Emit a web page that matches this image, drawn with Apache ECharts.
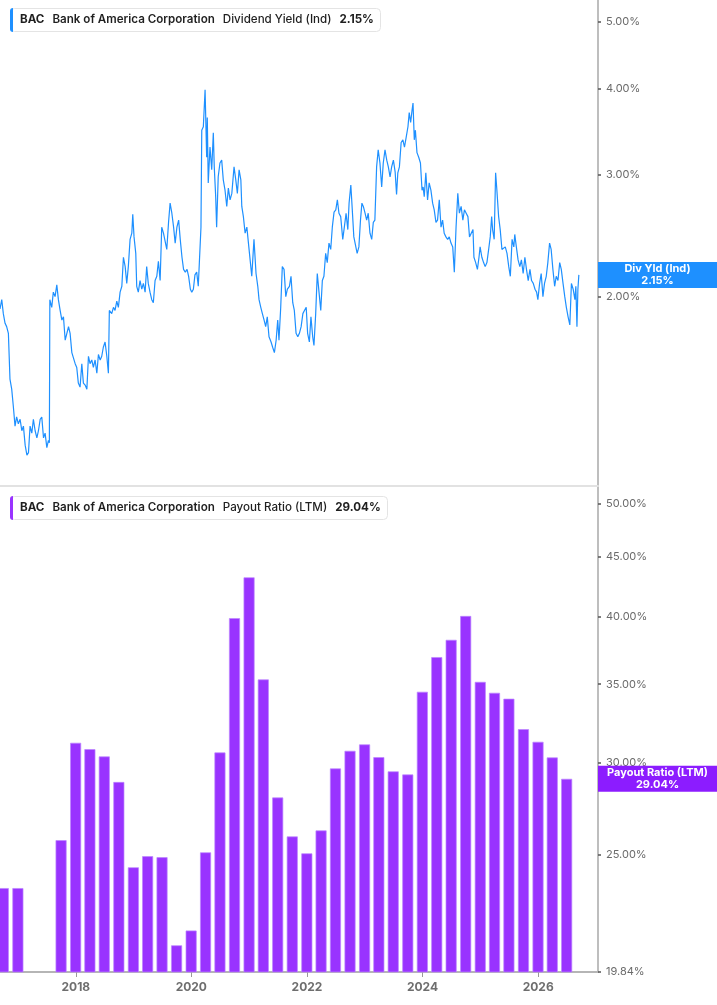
<!DOCTYPE html>
<html>
<head>
<meta charset="utf-8">
<title>BAC Dividend Yield / Payout Ratio</title>
<script src="https://cdn.jsdelivr.net/npm/echarts@6.0.0/dist/echarts.min.js"></script>
<style>
  html, body { margin: 0; padding: 0; background: #fff; }
  #chart { width: 717px; height: 1005px; }
</style>
</head>
<body>
<div id="chart"></div>
<script>
const kTicker = 'BAC';
const kCompany = 'Bank of America Corporation';

// Dividend Yield (Ind), %
const yieldDates = [
  '2016-09-09', '2016-09-20', '2016-09-30', '2016-10-11', '2016-10-21', '2016-11-01', '2016-11-11', '2016-11-22', '2016-12-02', '2016-12-13', '2016-12-23',
  '2017-01-03', '2017-01-14', '2017-01-25', '2017-02-04', '2017-02-15', '2017-02-26', '2017-03-08', '2017-03-18', '2017-03-29', '2017-04-08', '2017-04-19', '2017-04-30',
  '2017-05-10', '2017-05-21', '2017-05-31', '2017-06-11', '2017-06-21', '2017-07-02', '2017-07-12', '2017-07-18', '2017-07-21', '2017-08-02', '2017-08-12', '2017-08-23',
  '2017-09-03', '2017-09-13', '2017-09-24', '2017-10-05', '2017-10-15', '2017-10-26', '2017-11-05', '2017-11-16', '2017-11-26', '2017-12-07', '2017-12-17', '2017-12-28',
  '2018-01-07', '2018-01-17', '2018-01-28', '2018-02-08', '2018-02-18', '2018-03-01', '2018-03-12', '2018-03-22', '2018-04-01', '2018-04-12', '2018-04-22', '2018-05-03',
  '2018-05-14', '2018-05-24', '2018-06-04', '2018-06-14', '2018-06-24', '2018-07-05', '2018-07-16', '2018-07-26', '2018-08-01', '2018-08-16', '2018-08-27', '2018-09-06',
  '2018-09-17', '2018-09-27', '2018-10-08', '2018-10-19', '2018-10-29', '2018-11-09', '2018-11-19', '2018-11-29', '2018-12-10', '2018-12-21', '2018-12-27',
  '2019-01-04', '2019-01-15', '2019-01-21', '2019-01-31', '2019-02-11', '2019-02-22', '2019-03-04', '2019-03-15', '2019-03-25', '2019-04-04', '2019-04-15', '2019-04-26',
  '2019-05-06', '2019-05-17', '2019-05-28', '2019-06-07', '2019-06-18', '2019-06-28', '2019-07-09', '2019-07-20', '2019-07-30', '2019-08-10', '2019-08-20', '2019-08-31',
  '2019-09-11', '2019-09-21', '2019-10-02', '2019-10-13', '2019-10-23', '2019-11-03', '2019-11-13', '2019-11-24', '2019-12-05', '2019-12-15', '2019-12-26',
  '2020-01-04', '2020-01-14', '2020-01-24', '2020-02-04', '2020-02-14', '2020-02-25', '2020-03-02', '2020-03-07', '2020-03-17', '2020-03-28', '2020-04-07', '2020-04-11',
  '2020-04-17', '2020-04-28', '2020-05-09', '2020-05-19', '2020-05-25', '2020-06-03', '2020-06-09', '2020-06-19', '2020-06-30', '2020-07-11', '2020-07-21', '2020-08-01',
  '2020-08-12', '2020-08-22', '2020-09-02', '2020-09-13', '2020-09-27', '2020-10-08', '2020-10-18', '2020-10-29', '2020-11-09', '2020-11-15', '2020-11-25', '2020-12-06',
  '2020-12-17', '2020-12-27',
  '2021-01-06', '2021-01-17', '2021-01-31', '2021-02-13', '2021-02-24', '2021-03-04', '2021-03-15', '2021-03-25', '2021-04-05', '2021-04-15', '2021-04-25', '2021-05-06',
  '2021-05-19', '2021-05-29', '2021-06-09', '2021-06-20', '2021-06-30', '2021-07-08', '2021-07-19', '2021-07-29', '2021-08-09', '2021-08-20', '2021-08-30', '2021-09-12',
  '2021-09-22', '2021-10-03', '2021-10-13', '2021-10-24', '2021-11-04', '2021-11-14', '2021-11-25', '2021-12-06', '2021-12-16', '2021-12-27',
  '2022-01-05', '2022-01-16', '2022-01-26', '2022-02-06', '2022-02-14', '2022-02-25', '2022-03-07', '2022-03-18', '2022-03-29', '2022-04-08', '2022-04-18', '2022-04-29',
  '2022-05-09', '2022-05-20', '2022-05-31', '2022-06-10', '2022-06-21', '2022-07-02', '2022-07-12', '2022-07-22', '2022-08-02', '2022-08-15', '2022-08-25', '2022-09-05',
  '2022-09-16', '2022-09-24', '2022-10-05', '2022-10-13', '2022-10-24', '2022-11-03', '2022-11-14', '2022-11-25', '2022-12-05', '2022-12-14', '2022-12-23',
  '2023-01-03', '2023-01-13', '2023-01-23', '2023-02-03', '2023-02-14', '2023-02-24', '2023-03-06', '2023-03-17', '2023-03-27', '2023-04-07', '2023-04-18', '2023-04-28',
  '2023-05-09', '2023-05-20', '2023-05-30', '2023-06-10', '2023-06-20', '2023-07-01', '2023-07-12', '2023-07-21', '2023-07-29', '2023-08-08', '2023-08-19', '2023-08-30',
  '2023-09-09', '2023-09-20', '2023-10-01', '2023-10-09', '2023-10-18', '2023-10-27', '2023-11-02', '2023-11-10', '2023-11-17', '2023-11-27', '2023-12-08', '2023-12-19',
  '2023-12-29',
  '2024-01-05', '2024-01-12', '2024-01-22', '2024-02-02', '2024-02-12', '2024-02-23', '2024-03-05', '2024-03-15', '2024-03-26', '2024-04-05', '2024-04-16', '2024-04-27',
  '2024-05-07', '2024-05-17', '2024-05-28', '2024-06-08', '2024-06-18', '2024-06-29', '2024-07-10', '2024-07-20', '2024-07-31', '2024-08-11', '2024-08-21', '2024-09-01',
  '2024-09-12', '2024-09-22', '2024-10-03', '2024-10-14', '2024-10-24', '2024-11-04', '2024-11-15', '2024-11-21', '2024-12-02', '2024-12-13', '2024-12-23', '2024-12-30',
  '2025-01-10', '2025-01-21', '2025-01-31', '2025-02-11', '2025-02-22', '2025-03-04', '2025-03-13', '2025-03-19', '2025-03-29', '2025-04-07', '2025-04-15', '2025-04-26',
  '2025-05-06', '2025-05-17', '2025-05-28', '2025-06-07', '2025-06-18', '2025-06-29', '2025-07-09', '2025-07-20', '2025-07-31', '2025-08-06', '2025-08-16', '2025-08-27',
  '2025-09-07', '2025-09-17', '2025-09-28', '2025-10-09', '2025-10-19', '2025-10-30', '2025-11-10', '2025-11-20', '2025-12-01', '2025-12-12', '2025-12-22', '2025-12-30',
  '2026-01-10', '2026-01-20', '2026-01-31', '2026-02-10', '2026-02-21', '2026-03-03', '2026-03-14', '2026-03-24', '2026-04-04', '2026-04-15', '2026-04-25', '2026-05-06',
  '2026-05-17', '2026-05-27', '2026-06-07', '2026-06-18', '2026-06-28', '2026-07-09', '2026-07-20', '2026-07-30', '2026-08-10', '2026-08-21', '2026-08-27', '2026-09-03',
  '2026-09-09', '2026-09-15',
];
const yieldValues = [
  1.92, 1.98, 1.89, 1.83, 1.81, 1.77, 1.52, 1.47, 1.39, 1.30, 1.34,
  1.31, 1.33, 1.28, 1.30, 1.22, 1.18, 1.19, 1.30, 1.27, 1.33, 1.28, 1.25,
  1.28, 1.33, 1.34, 1.25, 1.27, 1.21, 1.24, 1.23, 1.98, 1.93, 2.03, 2.00,
  2.08, 1.98, 1.91, 1.85, 1.87, 1.73, 1.72, 1.81, 1.77, 1.66, 1.66, 1.60,
  1.58, 1.50, 1.48, 1.60, 1.50, 1.49, 1.47, 1.64, 1.60, 1.62, 1.58, 1.62,
  1.55, 1.65, 1.62, 1.64, 1.69, 1.72, 1.64, 1.55, 1.91, 1.89, 1.93, 1.91,
  1.97, 1.93, 2.03, 2.07, 2.28, 2.21, 2.09, 2.21, 2.42, 2.47, 2.63,
  2.44, 2.31, 2.07, 2.03, 2.11, 2.05, 2.09, 2.03, 2.21, 2.09, 2.03, 1.98,
  1.96, 2.11, 2.14, 2.25, 2.11, 2.52, 2.47, 2.47, 2.34, 2.56, 2.73, 2.64,
  2.52, 2.39, 2.52, 2.58, 2.42, 2.28, 2.19, 2.17, 2.19, 2.14, 2.05,
  2.03, 2.05, 2.15, 2.17, 2.07, 2.07, 2.52, 3.48, 3.52, 3.98, 3.18, 3.63,
  2.92, 3.29, 3.05, 3.45, 3.08, 2.79, 2.52, 2.98, 3.12, 3.15, 2.95, 2.85,
  2.70, 2.87, 2.76, 2.82, 3.08, 2.95, 2.82, 3.05, 2.95, 2.70, 2.61, 2.47,
  2.52, 2.39,
  2.38, 2.14, 2.42, 2.16, 2.07, 1.98, 1.93, 1.89, 1.85, 1.81, 1.87, 1.75,
  1.72, 1.69, 1.66, 1.73, 1.85, 1.73, 1.93, 2.21, 2.19, 2.00, 2.05, 2.07,
  2.14, 1.96, 1.91, 1.77, 1.75, 1.77, 1.81, 1.89, 1.91, 1.93,
  1.77, 1.72, 1.87, 1.75, 1.70, 1.89, 2.16, 2.03, 1.91, 2.11, 2.14, 2.31,
  2.24, 2.39, 2.34, 2.52, 2.65, 2.67, 2.76, 2.64, 2.61, 2.42, 2.52, 2.64,
  2.50, 2.73, 2.90, 2.70, 2.44, 2.44, 2.31, 2.36, 2.58, 2.73, 2.70,
  2.64, 2.58, 2.64, 2.47, 2.42, 2.56, 2.58, 3.08, 3.26, 3.12, 2.88, 3.12,
  3.26, 3.15, 3.08, 2.98, 3.08, 3.15, 3.03, 2.81, 3.02, 3.08, 3.34, 3.37,
  3.29, 3.40, 3.52, 3.69, 3.57, 3.72, 3.81, 3.37, 3.48, 3.23, 3.18, 3.12,
  2.85,
  2.88, 2.79, 3.02, 2.76, 2.92, 2.85, 2.73, 2.67, 2.56, 2.58, 2.76, 2.52,
  2.58, 2.47, 2.44, 2.42, 2.44, 2.39, 2.36, 2.17, 2.52, 2.82, 2.64, 2.70,
  2.58, 2.67, 2.64, 2.61, 2.44, 2.47, 2.50, 2.28, 2.24, 2.19, 2.28, 2.36,
  2.28, 2.24, 2.21, 2.24, 2.34, 2.44, 2.61, 2.50, 2.42, 3.02, 2.85, 2.61,
  2.50, 2.34, 2.34, 2.36, 2.31, 2.21, 2.14, 2.42, 2.36, 2.46, 2.36, 2.26,
  2.21, 2.26, 2.16, 2.28, 2.19, 2.11, 2.19, 2.11, 2.09, 2.05, 2.03, 1.98,
  2.09, 2.16, 2.00, 2.09, 2.14, 2.24, 2.39, 2.34, 2.19, 2.07, 2.14, 2.11,
  2.24, 2.19, 2.09, 2.00, 1.93, 1.87, 1.82, 2.09, 2.05, 1.98, 2.07, 1.81,
  2.05, 2.15,
];

// Payout Ratio (LTM), %, quarterly
const payoutDates = [
  '2016-09-30', '2016-12-31', '2017-03-31', '2017-06-30', '2017-09-30', '2017-12-31',
  '2018-03-31', '2018-06-30', '2018-09-30', '2018-12-31', '2019-03-31', '2019-06-30', '2019-09-30', '2019-12-31',
  '2020-03-31', '2020-06-30', '2020-09-30', '2020-12-31', '2021-03-31', '2021-06-30', '2021-09-30', '2021-12-31',
  '2022-03-31', '2022-06-30', '2022-09-30', '2022-12-31', '2023-03-31', '2023-06-30', '2023-09-30', '2023-12-31',
  '2024-03-31', '2024-06-30', '2024-09-30', '2024-12-31', '2025-03-31', '2025-06-30', '2025-09-30', '2025-12-31',
  '2026-03-31', '2026-06-30',
];
const payoutValues = [
  23.41, 23.41, null, null, 25.73, 31.18,
  30.79, 30.35, 28.86, 24.39, 24.93, 24.88, 20.91, 21.53,
  25.12, 30.59, 39.87, 43.21, 35.33, 27.99, 25.92, 25.07,
  26.23, 29.64, 30.69, 31.08, 30.31, 29.47, 29.29, 34.48,
  36.92, 38.20, 40.04, 35.16, 34.41, 34.01, 32.03, 31.24,
  30.29, 29.04,
];

// axis ticks
const yearTicks = ['2018-01-01', '2020-01-01', '2022-01-01', '2024-01-01', '2026-01-01'];
const yieldTicks = [2, 3, 4, 5];
const payoutTicks = [19.84, 25, 30, 35, 40, 45, 50];

const kFont = 'Inter, "Noto Sans", sans-serif';
const kBlue = '#1e90ff';
const kPurple = '#9933ff';
const kPurpleTag = '#8c1cff';

window.onload = function () {
  const chart = echarts.init(document.getElementById('chart'));
  chart.setOption(buildOption());
};

// 'YYYY-MM-DD' -> UTC 毫秒
function toTime(d) {
  return Date.parse(d + 'T00:00:00Z');
}

/**
 * 左上角的标题框
 */
function headerTitle(top, color, metric, value) {
  const font = { fontFamily: kFont, fontSize: 11.6, color: '#1f1f1f' };
  return {
    left: 10,
    top,
    text: `{bar|}{t|${kTicker}}{n|${kCompany}}{m|${metric}}{v|${value}}`,
    backgroundColor: '#fff',
    borderColor: '#e4e4e4',
    borderWidth: 1,
    borderRadius: 4,
    padding: [0, 7, 0, 0],
    textStyle: {
      fontFamily: kFont,
      fontSize: 11.6,
      color: '#1f1f1f',
      rich: {
        bar: { backgroundColor: color, width: 3, height: 24, borderRadius: [3, 0, 0, 3] },
        t: { ...font, fontWeight: 700, padding: [0, 0, 0, 7] },
        n: { ...font, fontWeight: 600, padding: [0, 0, 0, 8] },
        m: { ...font, fontWeight: 500, padding: [0, 0, 0, 8] },
        v: { ...font, fontWeight: 700, padding: [0, 0, 0, 8] },
      },
    },
  };
}

/**
 * 右侧的数值标签
 */
function tagMarkLine(value, color, name, text) {
  return {
    silent: true,
    symbol: ['none', 'none'],
    lineStyle: { color: 'rgba(0,0,0,0)', width: 0, type: 'solid' },
    data: [{ yAxis: value }],
    label: {
      show: true,
      position: 'end',
      distance: 0,
      backgroundColor: color,
      padding: [1, 0, 1, 0],
      formatter: `{a|${name}}\n{a|${text}}`,
      rich: {
        a: {
          width: 119,
          align: 'center',
          color: '#fff',
          fontFamily: kFont,
          fontSize: 11,
          fontWeight: 700,
          lineHeight: 12,
        },
      },
    },
  };
}

function valueAxis(gridIndex, min, max, ticks) {
  return {
    type: 'log',
    logBase: 10,
    gridIndex,
    position: 'right',
    min,
    max,
    axisLine: { show: true, lineStyle: { color: '#a9a9a9', width: 1.5 } },
    axisTick: { show: true, customValues: ticks, length: 3, lineStyle: { color: '#555', width: 1.5 } },
    axisLabel: {
      customValues: ticks,
      formatter: v => v.toFixed(2) + '%',
      color: '#6a6a6a',
      fontFamily: kFont,
      fontSize: 11,
      margin: 8,
    },
    splitLine: { show: false },
  };
}

function dateAxis(gridIndex, min, max, showLabels) {
  const ticks = yearTicks.map(toTime);
  return {
    type: 'value',
    gridIndex,
    min,
    max,
    axisLine: {
      show: true,
      lineStyle: showLabels ? { color: '#b5b5b5', width: 2 } : { color: '#e2e2e2', width: 2 },
    },
    axisTick: { show: showLabels, customValues: ticks, length: 5, lineStyle: { color: '#999' } },
    axisLabel: {
      show: showLabels,
      customValues: ticks,
      formatter: v => String(new Date(v).getUTCFullYear()),
      color: '#6e6e6e',
      fontFamily: kFont,
      fontSize: 12,
      fontWeight: 700,
      margin: 9,
    },
    splitLine: { show: false },
  };
}

function buildOption() {
  const lastYield = yieldValues[yieldValues.length - 1];
  const lastPayout = payoutValues[payoutValues.length - 1];
  const xMin = toTime('2016-09-09');
  const xMax = toTime('2027-01-14');

  return {
    animation: false,
    backgroundColor: '#fff',
    title: [
      headerTitle(8, kBlue, 'Dividend Yield (Ind)', lastYield.toFixed(2) + '%'),
      headerTitle(496, kPurple, 'Payout Ratio (LTM)', lastPayout.toFixed(2) + '%'),
    ],
    grid: [
      { left: 0, right: 119, top: 0, height: 486 },
      { left: 0, right: 119, top: 487, bottom: 33 },
    ],
    xAxis: [
      dateAxis(0, xMin, xMax, false),
      dateAxis(1, xMin, xMax, true),
    ],
    yAxis: [
      valueAxis(0, 1.065, 5.367, yieldTicks),
      valueAxis(1, 19.84, 51.64, payoutTicks),
    ],
    series: [
      {
        name: 'Dividend Yield (Ind)',
        type: 'line',
        xAxisIndex: 0,
        yAxisIndex: 0,
        showSymbol: false,
        lineStyle: { color: kBlue, width: 1.2 },
        itemStyle: { color: kBlue },
        data: yieldDates.map((d, i) => [toTime(d), yieldValues[i]]),
        markLine: tagMarkLine(lastYield, kBlue, 'Div Yld (Ind)', lastYield.toFixed(2) + '%'),
      },
      {
        name: 'Payout Ratio (LTM)',
        type: 'bar',
        xAxisIndex: 1,
        yAxisIndex: 1,
        barWidth: 11,
        itemStyle: { color: kPurple, borderColor: '#bb85ff', borderWidth: 0.7 },
        data: payoutDates.map((d, i) => [toTime(d), payoutValues[i] == null ? '-' : payoutValues[i]]),
        markLine: tagMarkLine(lastPayout, kPurpleTag, 'Payout Ratio (LTM)', lastPayout.toFixed(2) + '%'),
      },
    ],
  };
}
</script>
</body>
</html>
